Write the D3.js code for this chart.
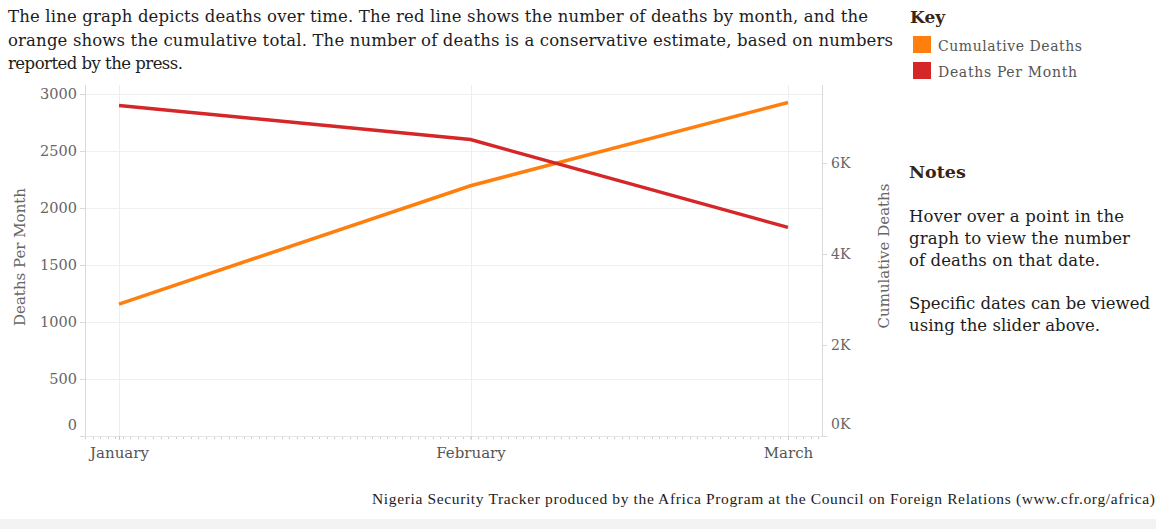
<!DOCTYPE html>
<html><head><meta charset="utf-8">
<script src="https://cdn.jsdelivr.net/npm/d3@7"></script>
<style>
html,body{margin:0;padding:0;background:#fff;}
svg{display:block;font-family:"DejaVu Serif",serif;}
</style>
</head><body>
<svg id="c" width="1156" height="529"></svg>
<script>
// ---- data ----
const months = ["January", "February", "March"];
const monthStarts = ["2015-01-01", "2015-02-01", "2015-03-01"];
const deathsPerMonth = [2900, 2600, 1830];
const cumulativeDeaths = [2900, 5500, 7330];
const leftTicks = [0, 500, 1000, 1500, 2000, 2500, 3000];
const rightTicks = [0, 2000, 4000, 6000];
const rightTickLabels = ["0K", "2K", "4K", "6K"];
const legendLabels = ["Cumulative Deaths", "Deaths Per Month"];
const titleLines = [
  "The line graph depicts deaths over time. The red line shows the number of deaths by month, and the",
  "orange shows the cumulative total. The number of deaths is a conservative estimate, based on numbers",
  "reported by the press."
];
const notesLines = [
  "Hover over a point in the",
  "graph to view the number",
  "of deaths on that date.",
  "",
  "Specific dates can be viewed",
  "using the slider above."
];
const footerText = "Nigeria Security Tracker produced by the Africa Program at the Council on Foreign Relations (www.cfr.org/africa)";

// ---- setup ----
const svg = d3.select("#c");
const parse = d3.timeParse("%Y-%m-%d");
const dates = monthStarts.map(parse);
const ORANGE = "#ff7f0e", RED = "#d62728";

const plot = {left: 85, right: 822, top: 85, bottom: 436};
const x = d3.scaleTime()
  .domain([new Date(2014, 11, 29), new Date(2015, 2, 4)])
  .range([plot.left, plot.right]);
const yL = d3.scaleLinear().domain([0, 3000]).range([plot.bottom, 94]);
const yR = d3.scaleLinear().domain([0, 6000]).range([plot.bottom, 163]);

// bottom band
svg.append("rect").attr("x", 0).attr("y", 519).attr("width", 1156).attr("height", 10).attr("fill", "#f3f3f3");

// gridlines
svg.append("g").selectAll("line").data(leftTicks).join("line")
  .attr("x1", plot.left).attr("x2", plot.right)
  .attr("y1", d => yL(d) + 0.5).attr("y2", d => yL(d) + 0.5)
  .attr("stroke", "#efefef").attr("stroke-width", 1);
svg.append("g").selectAll("line").data(dates).join("line")
  .attr("x1", d => Math.round(x(d)) + 0.5).attr("x2", d => Math.round(x(d)) + 0.5)
  .attr("y1", plot.top).attr("y2", plot.bottom)
  .attr("stroke", "#eeeeee").attr("stroke-width", 1);

// axis frame lines
svg.append("line").attr("x1", plot.left + 0.5).attr("x2", plot.left + 0.5)
  .attr("y1", plot.top).attr("y2", plot.bottom).attr("stroke", "#d9d9d9");
svg.append("line").attr("x1", plot.right + 0.5).attr("x2", plot.right + 0.5)
  .attr("y1", plot.top).attr("y2", plot.bottom).attr("stroke", "#d9d9d9");
svg.append("line").attr("x1", plot.left).attr("x2", plot.right)
  .attr("y1", plot.bottom + 0.5).attr("y2", plot.bottom + 0.5).attr("stroke", "#e6e6e6");

// minor x ticks
const step = 16 * 3600 * 1000;
const t0 = dates[1].getTime();
const [d0, d1] = x.domain().map(d => d.getTime());
const minor = d3.range(Math.ceil((d0 - t0) / step), Math.floor((d1 - t0) / step) + 1).map(k => new Date(t0 + k * step));
svg.append("g").selectAll("line").data(minor).join("line")
  .attr("x1", d => Math.round(x(d)) + 0.5).attr("x2", d => Math.round(x(d)) + 0.5)
  .attr("y1", plot.bottom + 1).attr("y2", plot.bottom + 3)
  .attr("stroke", "#cccccc");

// left axis
const gL = svg.append("g").attr("transform", `translate(${plot.left},0)`)
  .call(d3.axisLeft(yL).tickValues(leftTicks).tickSize(5).tickPadding(3).tickFormat(d3.format("d")));
gL.select(".domain").remove();
gL.selectAll(".tick line").attr("stroke", "#d9d9d9");
gL.selectAll(".tick text").attr("fill", "#666").attr("font-size", 14.5).attr("font-family", "DejaVu Serif")
  .filter(d => d === 0).attr("y", -11);

// right axis
const gR = svg.append("g").attr("transform", `translate(${plot.right},0)`)
  .call(d3.axisRight(yR).tickValues(rightTicks).tickSize(5).tickPadding(4).tickFormat((d, i) => rightTickLabels[i]));
gR.select(".domain").remove();
gR.selectAll(".tick line").attr("stroke", "#d9d9d9");
gR.selectAll(".tick text").attr("fill", "#666").attr("font-size", 14).attr("font-family", "DejaVu Serif")
  .filter(d => d === 0).attr("y", -12);

// x axis
const gX = svg.append("g").attr("transform", `translate(0,${plot.bottom})`)
  .call(d3.axisBottom(x).tickValues(dates).tickSize(4).tickPadding(7).tickFormat((d, i) => months[i]));
gX.select(".domain").remove();
gX.selectAll(".tick line").attr("stroke", "#cccccc");
gX.selectAll(".tick text").attr("fill", "#555").attr("font-size", 15).attr("font-family", "DejaVu Serif");

// axis titles
svg.append("text").attr("transform", "translate(25,257) rotate(-90)")
  .attr("text-anchor", "middle").attr("fill", "#666").attr("font-size", 15)
  .text("Deaths Per Month");
svg.append("text").attr("transform", "translate(889,256) rotate(-90)")
  .attr("text-anchor", "middle").attr("fill", "#666").attr("font-size", 15)
  .text("Cumulative Deaths");

// lines
const lineL = d3.line().x((d, i) => x(dates[i])).y(d => yL(d));
const lineR = d3.line().x((d, i) => x(dates[i])).y(d => yR(d));
svg.append("path").datum(cumulativeDeaths).attr("d", lineR)
  .attr("fill", "none").attr("stroke", ORANGE).attr("stroke-width", 3.5);
svg.append("path").datum(deathsPerMonth).attr("d", lineL)
  .attr("fill", "none").attr("stroke", RED).attr("stroke-width", 3.5);

// title
const titleWidths = [860, 885, 175];
svg.append("g").selectAll("text").data(titleLines).join("text")
  .attr("x", 8).attr("y", (d, i) => 22 + i * 23.5)
  .attr("fill", "#1c1c1c").attr("font-size", 16.5)
  .attr("textLength", (d, i) => titleWidths[i]).attr("lengthAdjust", "spacing")
  .text(d => d);

// key
svg.append("text").attr("x", 910).attr("y", 23).attr("font-size", 17).attr("font-weight", "bold")
  .attr("fill", "#3b2314").text("Key");
const legColors = [ORANGE, RED];
const leg = svg.append("g").selectAll("g").data(legendLabels).join("g")
  .attr("transform", (d, i) => `translate(913,${36 + i * 26})`);
leg.append("rect").attr("width", 18).attr("height", 17).attr("fill", (d, i) => legColors[i]);
leg.append("text").attr("x", 25).attr("y", 15).attr("font-size", 14).attr("fill", "#555")
  .attr("textLength", (d, i) => [144, 139][i]).attr("lengthAdjust", "spacing")
  .text(d => d);

// notes
svg.append("text").attr("x", 909).attr("y", 178).attr("font-size", 17.5).attr("font-weight", "bold")
  .attr("fill", "#3b2314").text("Notes");
const noteWidths = [215, 221, 191, 0, 241, 191];
svg.append("g").selectAll("text").data(notesLines).join("text")
  .attr("x", 909).attr("y", (d, i) => 222 + i * 21.8)
  .attr("font-size", 16.5).attr("fill", "#1c1c1c")
  .each(function(d, i) { if (noteWidths[i]) d3.select(this).attr("textLength", noteWidths[i]).attr("lengthAdjust", "spacing"); })
  .text(d => d);

// footer
svg.append("text").attr("x", 1155).attr("y", 504).attr("text-anchor", "end")
  .attr("font-size", 15.5).attr("font-family", "Liberation Serif").attr("fill", "#1c1c1c")
  .attr("textLength", 783).attr("lengthAdjust", "spacing")
  .text(footerText);
</script>
</body></html>
